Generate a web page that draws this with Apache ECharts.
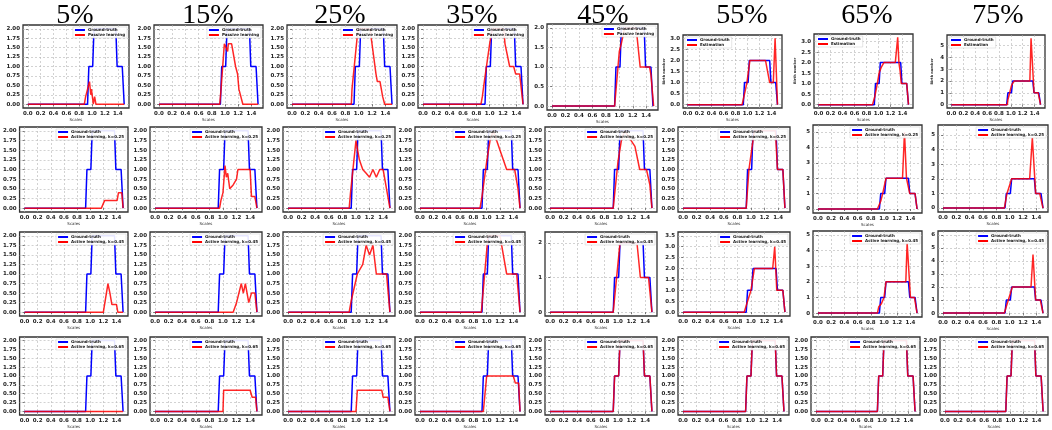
<!DOCTYPE html>
<html><head><meta charset="utf-8">
<script src="https://cdn.jsdelivr.net/npm/echarts@6/dist/echarts.min.js"></script>
<style>html,body{margin:0;padding:0;background:#fff}#c{width:1052px;height:430px}</style>
</head><body><div id="c"></div>
<script>
// ---------- DATA ----------
const columnTitles = ['5%','15%','25%','35%','45%','55%','65%','75%'];
const xTickValues = [0,0.2,0.4,0.6,0.8,1.0,1.2,1.4];
const groundTruth = [[0,0],[0.93,0],[0.95,1],[1.01,1],[1.03,2],[1.37,2],[1.39,1],[1.47,1],[1.5,0]];

// row 1: passive learning (5%-45%) / estimation (55%-75%)
const row1Names = ['Passive learning','Passive learning','Passive learning','Passive learning','Passive learning','Estimation','Estimation','Estimation'];
const row1Values = [
  [[0,0],[0.88,0],[0.9,0.2],[0.93,0.2],[0.96,0.6],[0.98,0.25],[0.99,0.4],[1.0,0.4],[1.02,0],[1.04,0.2],[1.06,0],[1.5,0]],
  [[0,0],[0.92,0],[0.94,0.4],[0.99,1.6],[1.02,1.6],[1.04,1.4],[1.05,1.6],[1.1,1.6],[1.16,1.0],[1.19,0.8],[1.21,0.4],[1.24,0.4],[1.27,0],[1.5,0]],
  [[0,0],[0.89,0],[0.9,0.4],[0.93,0.4],[0.99,2.0],[1.17,2.0],[1.26,0.8],[1.28,0.6],[1.32,0.6],[1.36,0.2],[1.39,0],[1.5,0]],
  [[0,0],[0.87,0],[0.89,0.2],[0.92,0.6],[0.95,0.6],[1.0,1.6],[1.02,1.8],[1.04,2.0],[1.21,2.0],[1.23,1.6],[1.26,1.6],[1.3,1.0],[1.36,1.0],[1.39,0.8],[1.45,0.8],[1.5,0]],
  [[0,0],[0.93,0],[1.0,1.4],[1.03,1.6],[1.08,2.0],[1.25,2.0],[1.31,1.0],[1.45,1.0],[1.47,0.8],[1.49,0.8],[1.51,0]],
  [[0,0],[0.91,0],[0.96,0.6],[0.99,1.0],[1.04,2.0],[1.3,2.0],[1.37,1.0],[1.43,1.0],[1.46,3.0],[1.5,0]],
  [[0,0],[0.9,0],[0.94,0.4],[0.98,1.0],[1.01,1.5],[1.05,1.8],[1.09,2.0],[1.28,2.0],[1.32,3.2],[1.34,2.0],[1.36,1.6],[1.38,1.0],[1.47,1.0],[1.5,0]],
  [[0,0],[0.94,0],[0.95,0.4],[0.97,0.8],[1.01,1.6],[1.03,1.8],[1.06,2.0],[1.32,2.0],[1.34,5.6],[1.39,1.0],[1.46,1.0],[1.5,0]]
];
// row 2: active learning k=0.25
const row2Name = 'Active learning, k=0.25';
const row2Values = [
  [[0,0],[1.17,0],[1.22,0.2],[1.41,0.2],[1.43,0.4],[1.48,0.4],[1.5,0]],
  [[0,0],[0.95,0],[0.97,0.2],[1.0,0.4],[1.03,1.1],[1.05,0.8],[1.07,0.9],[1.1,0.5],[1.15,0.6],[1.2,0.75],[1.22,1.0],[1.4,1.0],[1.42,0.3],[1.47,0.3],[1.5,0]],
  [[0,0],[0.9,0],[0.92,0.4],[1.0,1.75],[1.05,1.25],[1.1,1.0],[1.15,0.9],[1.2,0.8],[1.25,1.0],[1.3,0.8],[1.35,1.0],[1.4,1.0],[1.45,0.5],[1.5,0]],
  [[0,0],[0.9,0],[0.93,0.3],[1.0,1.2],[1.05,1.75],[1.1,2.0],[1.2,1.5],[1.3,1.0],[1.42,1.0],[1.47,0.5],[1.5,0]],
  [[0,0],[0.93,0],[1.0,1.2],[1.05,1.75],[1.1,2.0],[1.25,1.6],[1.32,1.0],[1.42,1.0],[1.47,0.6],[1.5,0]],
  [[0,0],[0.93,0],[0.97,1.0],[1.01,1.5],[1.05,2.0],[1.36,2.0],[1.39,1.0],[1.47,1.0],[1.5,0]],
  [[0,0],[0.9,0],[0.95,0.5],[0.98,1.0],[1.03,2.0],[1.28,2.0],[1.31,5.0],[1.34,2.0],[1.36,2.0],[1.39,1.0],[1.47,1.0],[1.5,0]],
  [[0,0],[0.92,0],[0.96,1.0],[0.99,1.0],[1.03,2.0],[1.3,2.0],[1.34,4.8],[1.39,1.0],[1.45,1.0],[1.5,0]]
];
// row 3: active learning k=0.45
const row3Name = 'Active learning, k=0.45';
const row3Values = [
  [[0,0],[1.2,0],[1.27,0.75],[1.3,0.5],[1.33,0.2],[1.4,0.2],[1.42,0],[1.5,0]],
  [[0,0],[1.15,0],[1.2,0.25],[1.27,0.75],[1.3,0.5],[1.33,0.75],[1.38,0.25],[1.42,0.5],[1.47,0.5],[1.5,0]],
  [[0,0],[0.9,0],[0.93,0.3],[1.02,1.0],[1.1,1.25],[1.15,1.75],[1.2,1.5],[1.25,1.75],[1.3,1.0],[1.45,1.0],[1.5,0]],
  [[0,0],[0.92,0],[1.02,2.0],[1.2,2.0],[1.25,1.5],[1.3,1.0],[1.45,1.0],[1.5,0]],
  [[0,0],[0.93,0],[1.03,2.0],[1.28,2.0],[1.33,1.0],[1.45,1.0],[1.5,0]],
  [[0,0],[0.9,0],[1.0,1.0],[1.05,2.0],[1.32,2.0],[1.35,3.0],[1.38,1.0],[1.47,1.0],[1.5,0]],
  [[0,0],[0.9,0],[0.92,0.4],[0.96,0.6],[1.0,1.0],[1.03,2.0],[1.33,2.0],[1.35,4.5],[1.4,1.0],[1.46,1.0],[1.5,0]],
  [[0,0],[0.92,0],[1.04,2.0],[1.32,2.0],[1.35,4.5],[1.39,1.0],[1.46,1.0],[1.5,0]]
];
// row 4: active learning k=0.65
const row4Name = 'Active learning, k=0.65';
const row4Values = [
  [[0,0],[1.5,0]],
  [[0,0],[1.0,0],[1.01,0.6],[1.4,0.6],[1.43,0.4],[1.48,0.4],[1.5,0]],
  [[0,0],[1.0,0],[1.02,0.6],[1.38,0.6],[1.4,0.4],[1.47,0.4],[1.5,0]],
  [[0,0],[0.95,0],[1.0,1.0],[1.4,1.0],[1.43,0.8],[1.48,0.8],[1.5,0]],
  [[0,0],[0.93,0],[0.95,1],[1.01,1],[1.03,2],[1.37,2],[1.39,1],[1.47,1],[1.5,0]],
  [[0,0],[0.93,0],[0.95,1],[1.01,1],[1.03,2],[1.37,2],[1.39,1],[1.47,1],[1.5,0]],
  [[0,0],[0.93,0],[0.95,1],[1.01,1],[1.03,2],[1.37,2],[1.39,1],[1.47,1],[1.5,0]],
  [[0,0],[0.93,0],[0.95,1],[1.01,1],[1.03,2],[1.37,2],[1.39,1],[1.47,1],[1.5,0]]
];
// y-axis data maximum and tick step per panel (rows x columns)
const yDataMax = [
  [2,2,2,2,2,3,3.2,5.6],
  [2,2,2,2,2,2,5.2,5.4],
  [2,2,2,2,2.2,3.5,5,6],
  [2,2,2,2,2,2,2,2]
];
const yTickStep = [
  [0.25,0.25,0.25,0.25,0.5,0.5,0.5,1],
  [0.25,0.25,0.25,0.25,0.25,0.25,1,1],
  [0.25,0.25,0.25,0.25,1,0.5,1,1],
  [0.25,0.25,0.25,0.25,0.25,0.25,0.25,0.25]
];

// ---------- LAYOUT ----------
const rowLayouts = [
  {L:[23,154,287,418,547,683,814,947], R:[129,263,397,528,658,782,913,1045], T:[25,25,25,25,24,35,34,35], B:[108,108,108,108,110,108,108,108]},
  {L:[18,150,283,415,545,678,813,938], R:[128,262,395,525,657,790,922,1048], T:[127,127,127,127,127,127,125,125], B:[212,212,212,212,212,212,213,212]},
  {L:[18,150,283,415,545,678,813,938], R:[128,262,395,525,657,790,922,1048], T:[232,232,232,232,232,232,231,231], B:[316,316,316,316,316,316,317,317]},
  {L:[18,150,283,415,545,678,811,940], R:[128,262,395,525,657,789,920,1048], T:[337,337,337,337,337,337,337,337], B:[420,420,420,420,420,420,420,420]}
];
const titleCenters = [70,203,335,467,598,737,862,993];

const redNames = [row1Names, Array(8).fill(row2Name), Array(8).fill(row3Name), Array(8).fill(row4Name)];
const redValues = [row1Values, row2Values, row3Values, row4Values];

const option = {
  animation:false,
  backgroundColor:'#fff',
  title: columnTitles.map((t,i)=>({text:t, left:titleCenters[i], top:-3, textAlign:'center',
      textStyle:{fontFamily:'Liberation Serif', fontSize:28, fontWeight:'normal', color:'#000'}})),
  grid:[], xAxis:[], yAxis:[], series:[], legend:[]
};

const axisFont = {fontFamily:'DejaVu Sans', fontSize:5.5, color:'#222', fontWeight:'bold'};
for (let r=0;r<4;r++){
  const lay = rowLayouts[r];
  for (let c=0;c<8;c++){
    const idx = r*8+c;
    const L=lay.L[c], R=lay.R[c], T=lay.T[c], B=lay.B[c];
    option.grid.push({left:L, top:T, width:R-L, height:B-T, show:true, borderColor:'#333', borderWidth:1.3, backgroundColor:'#fff'});
    option.xAxis.push({type:'value', gridIndex:idx, min:-0.075, max:1.575,
      axisLine:{show:false},
      axisTick:{show:true, length:2, customValues:xTickValues, lineStyle:{color:'#333', width:0.6}},
      axisLabel:Object.assign({customValues:xTickValues, formatter:v=>v.toFixed(1), margin:3}, axisFont),
      splitLine:{show:true, lineStyle:{type:[2,2], color:'#b5b5b5', width:0.6}},
      name:'Scales', nameLocation:'middle', nameGap:10, nameTextStyle:{fontFamily:'DejaVu Sans', fontSize:4, color:'#333'}
    });
    const M = yDataMax[r][c], st = yTickStep[r][c];
    const yt = []; for (let k=0; k*st <= M+1e-9; k++) yt.push(+(k*st).toFixed(4));
    const dec = st===0.25 ? 2 : (st===0.5 ? 1 : 0);
    const yAx = {type:'value', gridIndex:idx, min:-0.05*M, max:1.05*M,
      axisLine:{show:false},
      axisTick:{show:true, length:2, customValues:yt, lineStyle:{color:'#333', width:0.6}},
      axisLabel:Object.assign({customValues:yt, formatter:v=>v.toFixed(dec), margin:3}, axisFont),
      splitLine:{show:true, lineStyle:{type:[2,2], color:'#b5b5b5', width:0.6}}
    };
    if (r===0 && c>=5){ yAx.name='Birth number'; yAx.nameLocation='middle'; yAx.nameGap=13; yAx.nameRotate=90;
      yAx.nameTextStyle={fontFamily:'DejaVu Sans', fontSize:3.5, color:'#333', fontWeight:'bold'}; }
    option.yAxis.push(yAx);
    const rn = redNames[r][c];
    option.series.push({type:'line', name:'Ground-truth', xAxisIndex:idx, yAxisIndex:idx, data:groundTruth,
      showSymbol:false, symbol:'none', lineStyle:{color:'#0000ff', width:1.5}, itemStyle:{color:'#0000ff'}, z:2});
    option.series.push({type:'line', name:rn, xAxisIndex:idx, yAxisIndex:idx, data:redValues[r][c],
      showSymbol:false, symbol:'none', lineStyle:{color:'#ff0000', width:1.5, opacity:0.85}, itemStyle:{color:'#ff0000'}, z:3});
    const leg = {data:['Ground-truth', rn], orient:'vertical', top:T+2, itemWidth:10, itemHeight:2, itemGap:1,
      icon:'rect', padding:[1,2,1,2], borderColor:'#ccc', borderWidth:0.5, backgroundColor:'rgba(255,255,255,0.9)',
      textStyle:{fontFamily:'DejaVu Sans', fontSize:4, fontWeight:'bold', color:'#111', padding:[0,0,0,-2]}, selectedMode:false};
    if (r===0 && c>=5) leg.left = L+2; else leg.right = 1052-R+2;
    option.legend.push(leg);
  }
}
const chart = echarts.init(document.getElementById('c'), null, {renderer:'canvas'});
chart.setOption(option);
</script></body></html>
